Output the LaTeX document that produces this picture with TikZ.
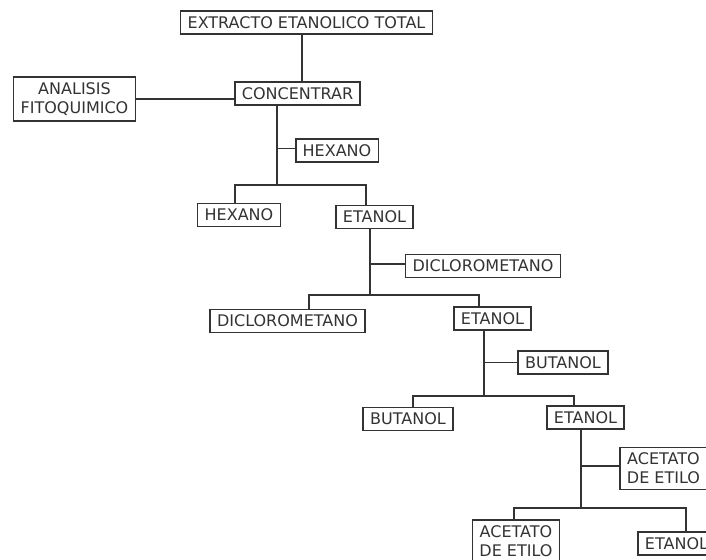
\documentclass[tikz,border=0pt]{standalone}
\usepackage{fontspec}
\setmainfont{DejaVu Sans}
\usetikzlibrary{positioning, calc}
\tikzset{
  fraccion/.style={
	x=1pt, y=-1pt, % one unit is one pixel of the drawing
	line width=1.6pt, % the lines of boxes and connectors
	draw=black!80,
	every node/.style={text=black!80},
  },
  caja/.style={draw, fill=white, inner xsep=7pt, inner ysep=5.5pt, minimum height=23pt, align=center, font=\fontsize{16}{19}\selectfont}, % sets the properties for each box
}

\begin{document}
\begin{tikzpicture}[fraccion]
	  \useasboundingbox[fill=white] (0,0) rectangle (706,559);
	  \clip (0,0) rectangle (706,559);

	  \node[caja] (total) at (306.5,22.5) {EXTRACTO ETANOLICO TOTAL};
	  \node[caja] (conc) at (297.5,93.5) {CONCENTRAR};
	  \node[caja] (anal) at (74.5,99) {ANALISIS\\FITOQUIMICO};
	  \node[caja] (hexS) at (337,150.5) {HEXANO};
	  \node[caja] (hexL) at (239,215) {HEXANO};
	  \node[caja] (etaA) at (374.5,217) {ETANOL};
	  \node[caja] (dicS) at (483,266) {DICLOROMETANO};
	  \node[caja] (dicL) at (287.5,321) {DICLOROMETANO};
	  \node[caja] (etaB) at (492.5,318.5) {ETANOL};
	  \node[caja] (butS) at (563,362.5) {BUTANOL};
	  \node[caja] (butL) at (408,419) {BUTANOL};
	  \node[caja] (etaC) at (585.5,417.5) {ETANOL};
	  \node[caja] (aceS) at (663.5,468.5) {ACETATO\\DE ETILO};
	  \node[caja] (aceL) at (516,541) {ACETATO\\DE ETILO};
	  \node[caja] (etaD) at (676.5,543.5) {ETANOL};

	  \coordinate (j1) at (277,185);
	  \coordinate (j2) at (370,295);
	  \coordinate (j3) at (484,396);
	  \coordinate (j4) at (581,508);

	  \draw   ([xshift=-4.5pt]total.south) -- ([xshift=-4.5pt]total.south |- conc.north)
		  (anal.east) -- (anal.east -| conc.west)
		  (conc.south -| j1) -- (j1)
		  ([yshift=2pt]hexS.west) -- ([yshift=2pt]hexS.west -| j1)
		  ([xshift=-4pt]hexL.north) |- (j1) -| ([xshift=-8.5pt]etaA.north)
		  (etaA.south -| j2) -- (j2)
		  ([yshift=2pt]dicS.west) -- ([yshift=2pt]dicS.west -| j2)
		  ([xshift=21.5pt]dicL.north) |- (j2) -| ([xshift=-13.5pt]etaB.north)
		  (etaB.south -| j3) -- (j3)
		  (butS.west) -- (butS.west -| j3)
		  ([xshift=5pt]butL.north) |- (j3) -| ([xshift=-11.5pt]etaC.north)
		  (etaC.south -| j4) -- (j4)
		  ([yshift=2.5pt]aceS.west) -- ([yshift=2.5pt]aceS.west -| j4)
		  ([xshift=-2pt]aceL.north) |- (j4) -| ([xshift=9.5pt]etaD.north)
	  ;
\end{tikzpicture}
\end{document}
